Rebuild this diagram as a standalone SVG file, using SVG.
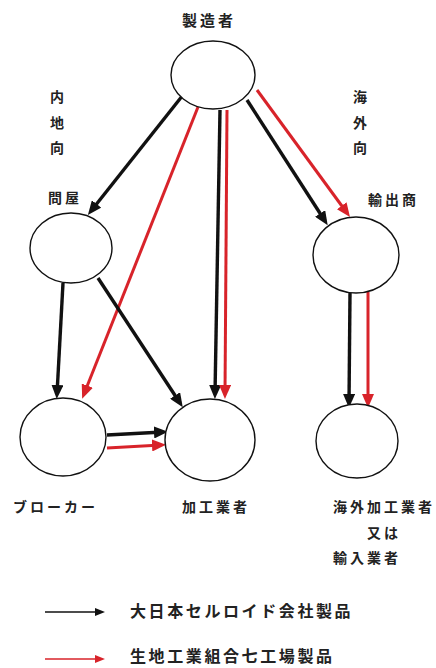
<svg xmlns="http://www.w3.org/2000/svg" width="436" height="668" viewBox="0 0 436 668">
<style>
.node{fill:#fff;stroke:#111;stroke-width:1.4}
.lbl{font-family:"Noto Sans CJK JP","Noto Sans CJK SC",sans-serif;font-weight:bold;font-size:14px;letter-spacing:3px;fill:#222}
.big{font-size:15px}
.leg{font-size:16px;letter-spacing:2.6px}
.vt{text-anchor:middle;letter-spacing:0}
.k{stroke:#111;stroke-width:3.4;fill:none}
.r{stroke:#d8232a;stroke-width:3;fill:none}
.kl{stroke:#111;stroke-width:1.6;fill:none}
.rl{stroke:#d8232a;stroke-width:1.6;fill:none}
</style>
<defs>
<marker id="ak" markerUnits="userSpaceOnUse" markerWidth="14" markerHeight="12" refX="9" refY="6" orient="auto"><path d="M0,0 L14,6 L0,12 z" fill="#111"/></marker>
<marker id="ar" markerUnits="userSpaceOnUse" markerWidth="14" markerHeight="12" refX="9" refY="6" orient="auto"><path d="M0,0 L14,6 L0,12 z" fill="#d8232a"/></marker>
<marker id="akl" markerUnits="userSpaceOnUse" markerWidth="10" markerHeight="8" refX="6" refY="4" orient="auto"><path d="M0,0 L10,4 L0,8 z" fill="#111"/></marker>
<marker id="arl" markerUnits="userSpaceOnUse" markerWidth="10" markerHeight="8" refX="6" refY="4" orient="auto"><path d="M0,0 L10,4 L0,8 z" fill="#d8232a"/></marker>
</defs>

<g id="connectors">
<line class="k" x1="183" y1="95" x2="91" y2="211" marker-end="url(#ak)"/>
<circle cx="183" cy="95" r="2.5" fill="#111"/>
<line class="r" x1="198" y1="107" x2="84" y2="394" marker-end="url(#ar)"/>
<line class="k" x1="220" y1="110" x2="215" y2="394" marker-end="url(#ak)"/>
<line class="r" x1="227" y1="110" x2="225" y2="394" marker-end="url(#ar)"/>
<line class="k" x1="247" y1="100" x2="325" y2="221" marker-end="url(#ak)"/>
<line class="r" x1="257" y1="90" x2="347" y2="213" marker-end="url(#ar)"/>
<line class="k" x1="63" y1="283" x2="57" y2="394" marker-end="url(#ak)"/>
<line class="k" x1="98" y1="278" x2="180" y2="403" marker-end="url(#ak)"/>
<line class="k" x1="107" y1="435" x2="163" y2="432" marker-end="url(#ak)"/>
<line class="r" x1="107" y1="448" x2="161" y2="445" marker-end="url(#ar)"/>
<line class="k" x1="350" y1="293" x2="349" y2="403" marker-end="url(#ak)"/>
<line class="r" x1="368" y1="292" x2="368" y2="403" marker-end="url(#ar)"/>
</g>

<g id="n-maker">
<ellipse class="node" cx="213" cy="75" rx="42" ry="34"/>
<text class="lbl big" x="182" y="26">製造者</text>
</g>
<g id="n-tonya">
<ellipse class="node" cx="71" cy="248" rx="41" ry="35"/>
<text class="lbl" x="48" y="203">問屋</text>
</g>
<g id="n-export">
<ellipse class="node" cx="356" cy="255" rx="43" ry="38"/>
<text class="lbl" x="368" y="205">輸出商</text>
</g>
<g id="n-broker">
<ellipse class="node" cx="63" cy="437" rx="43" ry="39"/>
<text class="lbl" x="13" y="512">ブローカー</text>
</g>
<g id="n-processor">
<ellipse class="node" cx="210" cy="440" rx="45" ry="41"/>
<text class="lbl" x="182" y="512">加工業者</text>
</g>
<g id="n-overseas">
<ellipse class="node" cx="357" cy="441" rx="41" ry="37"/>
<text class="lbl" x="333" y="512">海外加工業者</text>
<text class="lbl" x="367" y="538">又は</text>
<text class="lbl" x="333" y="563">輸入業者</text>
</g>

<g id="label-domestic">
<text class="lbl vt" x="57" y="102">内</text>
<text class="lbl vt" x="57" y="128">地</text>
<text class="lbl vt" x="57" y="153">向</text>
</g>
<g id="label-overseas">
<text class="lbl vt" x="360" y="102">海</text>
<text class="lbl vt" x="360" y="128">外</text>
<text class="lbl vt" x="360" y="153">向</text>
</g>

<g id="legend">
<line class="kl" x1="45" y1="612" x2="101" y2="612" marker-end="url(#akl)"/>
<text class="lbl leg" x="130" y="617">大日本セルロイド会社製品</text>
<line class="rl" x1="45" y1="659" x2="101" y2="659" marker-end="url(#arl)"/>
<text class="lbl leg" x="130" y="662">生地工業組合七工場製品</text>
</g>
</svg>
